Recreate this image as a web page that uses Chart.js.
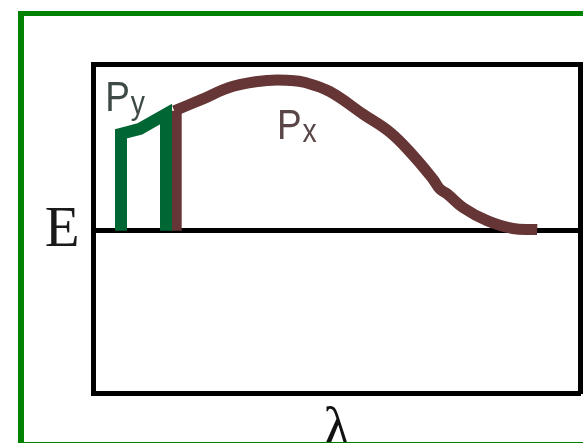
<!DOCTYPE html>
<html>
<head>
<meta charset="utf-8">
<script src="https://cdn.jsdelivr.net/npm/chart.js@4"></script>
<style>
  html, body { margin: 0; padding: 0; background: #fff; overflow: hidden; width: 583px; height: 443px; }
  #frame {
    position: absolute; left: 18px; top: 11px;
    width: 600px; height: 426px;
    border: 5px solid #008200;
    border-left-width: 6px;
    overflow: hidden;
  }
  #chart { display: block; }
</style>
</head>
<body>
<div id="frame"><canvas id="chart" width="570" height="426"></canvas></div>
<script>
// Px curve (brown): rising edge, then the broad hump
const pxEdgeX = [17, 17];
const pxEdgeY = [0, 0.72];
const pxCurveX = [16.6, 21.9, 28.7, 35.7, 40.4, 43.5, 48.6, 55.4, 61, 65.7, 69.8, 71.2, 72.7, 76, 80.9, 86.2, 91.2];
const pxCurveY = [0.72, 0.784, 0.867, 0.902, 0.902, 0.89, 0.835, 0.7, 0.59, 0.452, 0.309, 0.25, 0.221, 0.138, 0.06, 0.013, 0.007];

// Py curve (green): narrow box-like band
const pyX = [5.65, 5.65, 9.56, 14.9, 14.9];
const pyY = [0, 0.582, 0.612, 0.7, 0];

// curve labels: [text, subscript, x, y, colour]
const curveLabels = [
  ["P", "y", 2.4, 0.72, "#3e4b45"],
  ["P", "x", 37.7, 0.55, "#5a4646"],
];

function pts(xs, ys) {
  return xs.map((x, i) => ({ x: x, y: ys[i] }));
}

const labelPlugin = {
  id: "curveLabels",
  afterDatasetsDraw(chart) {
    const ctx = chart.ctx;
    const xs = chart.scales.x, ys = chart.scales.y;
    curveLabels.forEach(([t, sub, x, y, color]) => {
      const px = xs.getPixelForValue(x);
      const py = ys.getPixelForValue(y);
      ctx.save();
      ctx.translate(px, py);
      ctx.scale(0.86, 1);
      ctx.fillStyle = color;
      ctx.textBaseline = "alphabetic";
      ctx.font = "43px 'Liberation Sans', Arial, sans-serif";
      ctx.fillText(t, 0, 0);
      const w = ctx.measureText(t).width;
      ctx.font = "33px 'Liberation Sans', Arial, sans-serif";
      ctx.fillText(sub, w + 1, 3);
      ctx.restore();
    });
  },
};

const brown = "#663535";
const green = "#006633";

new Chart(document.getElementById("chart"), {
  type: "scatter",
  data: {
    datasets: [
      {
        data: pts(pyX, pyY),
        showLine: true,
        borderColor: green,
        borderWidth: 12,
        pointRadius: 0,
        tension: 0,
        borderJoinStyle: "miter",
      },
      {
        data: pts(pxEdgeX, pxEdgeY),
        showLine: true,
        borderColor: brown,
        borderWidth: 11,
        pointRadius: 0,
        tension: 0,
      },
      {
        data: pts(pxCurveX, pxCurveY),
        showLine: true,
        borderColor: brown,
        borderWidth: 11,
        pointRadius: 0,
        tension: 0.4,
        borderJoinStyle: "round",
      },
    ],
  },
  options: {
    responsive: false,
    animation: false,
    devicePixelRatio: 1,
    layout: { padding: 0 },
    plugins: { legend: { display: false }, tooltip: { enabled: false } },
    scales: {
      x: {
        type: "linear",
        position: "bottom",
        min: 0,
        max: 100,
        grid: { color: "transparent", drawTicks: false },
        border: { color: "#000", width: 5 },
        ticks: { display: false },
        title: {
          display: true,
          text: "λ",
          color: "#111",
          font: { family: "'Liberation Serif', 'DejaVu Serif', serif", size: 56, lineHeight: 1 },
          padding: { top: 0, bottom: -18 },
        },
        afterFit(scale) { scale.height = 47.5; },
      },
      x2: {
        type: "linear",
        position: "top",
        min: 0,
        max: 100,
        grid: { color: "transparent", drawTicks: false },
        border: { color: "#000", width: 5 },
        ticks: { display: false },
        afterFit(scale) { scale.height = 44.5; },
      },
      y: {
        type: "linear",
        position: "left",
        min: -0.98,
        max: 1,
        z: 1,
        afterBuildTicks(scale) { scale.ticks = [{ value: 0 }]; },
        grid: { color: "#000", lineWidth: 5, drawTicks: false },
        border: { color: "#000", width: 5 },
        ticks: {
          callback: (v) => (v === 0 ? "E" : ""),
          color: "#1a1a1a",
          padding: 14,
          font: { family: "'Liberation Serif', 'DejaVu Serif', serif", size: 57 },
        },
        afterFit(scale) { scale.width = 69.5; },
      },
      y2: {
        type: "linear",
        position: "right",
        min: -0.98,
        max: 1,
        grid: { display: false },
        border: { color: "#000", width: 5 },
        ticks: { display: false },
        afterFit(scale) { scale.width = 14; },
      },
    },
  },
  plugins: [labelPlugin],
});
</script>
</body>
</html>
